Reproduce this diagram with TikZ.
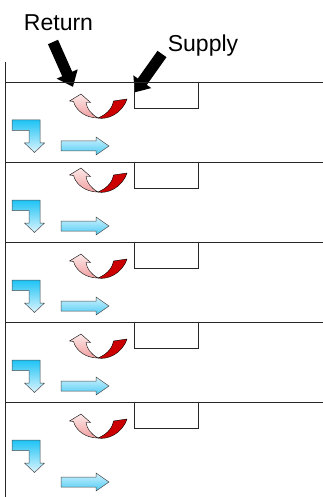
\documentclass[tikz,border=0pt]{standalone}
\usepackage{fontspec}
\setmainfont{Liberation Sans}
\begin{document}
\begin{tikzpicture}[x=1pt,y=-1pt,
  rule/.style={line width=0.8pt,black!85},
  lbl/.style={anchor=base,inner sep=0pt,font=\fontsize{23}{27}\selectfont},
  blk/.style={fill=black},
  pinkpart/.style={draw=black,line width=0.4pt,top color=pinkA,bottom color=pinkB},
  redpart/.style={draw=black,line width=0.4pt,fill=redA},
  lblue/.style={draw=black!70,line width=0.5pt,top color=blueA,bottom color=blueB},
  rblue/.style={draw=black!70,line width=0.5pt,top color=blueC,bottom color=blueD}]
\definecolor{pinkA}{HTML}{FDE8E8}
\definecolor{pinkB}{HTML}{F0A0A0}
\definecolor{redA}{HTML}{CC0000}
\definecolor{blueA}{HTML}{1EC3F5}
\definecolor{blueB}{HTML}{DDF5FE}
\definecolor{blueC}{HTML}{CDF1FD}
\definecolor{blueD}{HTML}{4CCBF4}
\useasboundingbox (0,0) rectangle (323,497);
% labels
\node[lbl] (ret) at (58.5,31) {Return};
\node[lbl] (sup) at (203,52) {Supply};
% black pointer arrows
\begin{scope}[shift={(53,42)},rotate=-66.04]
  \fill[blk] (0,-5.5) -- (35,-5.5) -- (35,-11.5) -- (49,0) -- (35,11.5) -- (35,5.5) -- (0,5.5) -- cycle;
\end{scope}
\begin{scope}[shift={(162,54)},rotate=-125.4]
  \fill[blk] (0,-5.5) -- (34,-5.5) -- (34,-11) -- (47,0) -- (34,11) -- (34,5.5) -- (0,5.5) -- cycle;
\end{scope}
% frame
\draw[rule] (5.5,62) -- (5.5,497);
\foreach \h/\rd/\bd in {82/0/0,162/-6/0,242/0/0,322/0/0,402/0/16}{
  \draw[rule] (5.5,\h) -- (323,\h);
  \draw[rule] (134,\h) rectangle (198,\h+26);
  \begin{scope}[shift={(0,\h+\rd)}]
    \path[pinkpart] (73.5,19.5) -- (69.5,19) -- (81,12) -- (90.5,20.5) -- (86,20.5)
      .. controls (87,27) and (91,32) .. (98,36)
      .. controls (86,36) and (76,29) .. (73.5,19.5) -- cycle;
    \path[redpart] (98,36) .. controls (107,38) and (122,32) .. (127,17)
      -- (113.5,19) .. controls (112,28) and (105,33) .. (98,36) -- cycle;
  \end{scope}
  \begin{scope}[shift={(0,\h)}]
    \path[lblue] (12,38) -- (40,38) -- (40,61) -- (44.5,61) -- (34.5,70.5)
      -- (24.5,61) -- (29,61) -- (29,48.5) -- (12,48.5) -- cycle;
  \end{scope}
  \begin{scope}[shift={(0,\h+\bd)}]
    \path[rblue] (61,59) -- (96,59) -- (96,55) -- (109,64) -- (96,73) -- (96,69)
      -- (61,69) -- cycle;
  \end{scope}
}
\end{tikzpicture}
\end{document}
